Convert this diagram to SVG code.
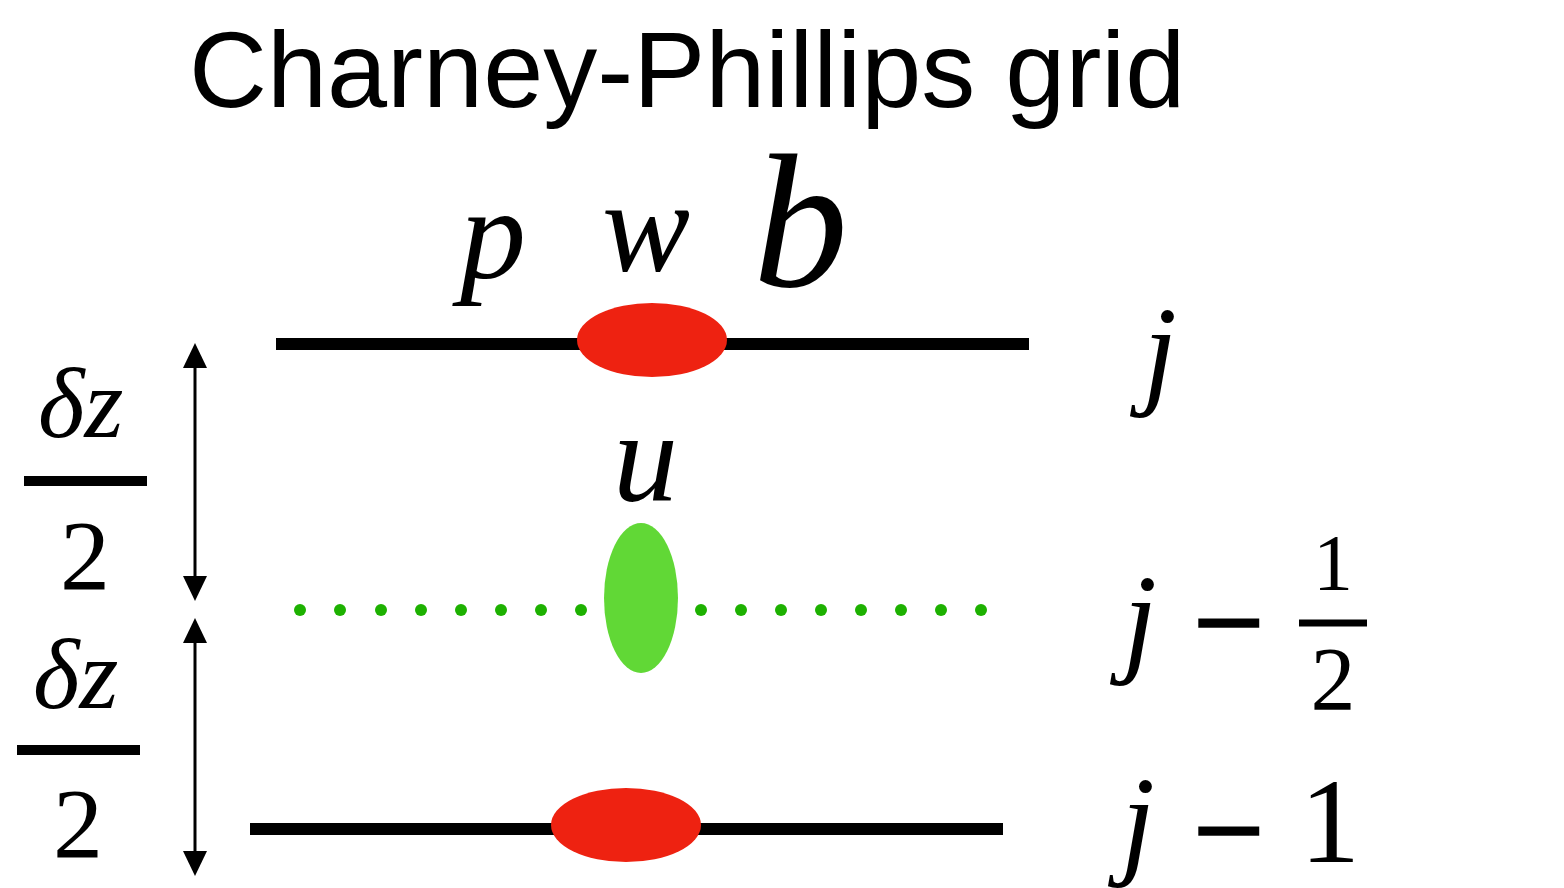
<svg xmlns="http://www.w3.org/2000/svg" width="1564" height="888" viewBox="0 0 1564 888">
<style>
.math{font-family:"Liberation Serif","Times New Roman",serif;font-style:italic;fill:#000}
.num{font-family:"Liberation Serif","Times New Roman",serif;fill:#000}
.minus{font-family:"Liberation Serif","Times New Roman",serif;fill:#000;stroke:#000;stroke-width:5}
.title{font-family:"Liberation Sans",Arial,sans-serif;fill:#000}
.level{stroke:#000;stroke-width:12}
.bar{stroke:#000;stroke-width:10}
.dot{fill:#1DB100}
.red{fill:#EE2211}
.green{fill:#61D836}
.shaft{stroke:#000;stroke-width:3;fill:none}
.head{fill:#000}
</style>
<rect width="1564" height="888" fill="#fff"/>
<text class="title" x="189" y="107" font-size="108">Charney-Phillips grid</text>

<g id="connectors">
<line class="shaft" x1="195" y1="360" x2="195" y2="584"/>
<polygon class="head" points="195,343 207,368 183,368"/>
<polygon class="head" points="195,601 207,576 183,576"/>
<line class="shaft" x1="195" y1="635" x2="195" y2="859"/>
<polygon class="head" points="195,618 207,643 183,643"/>
<polygon class="head" points="195,876 207,851 183,851"/>
</g>

<g id="level-j">
<line class="level" x1="276" y1="344" x2="1029" y2="344"/>
<ellipse class="red" cx="652" cy="340" rx="75" ry="37"/>
<text class="math" x="460" y="278" font-size="132">p</text>
<text class="math" x="602" y="271" font-size="132">w</text>
<text class="math" x="753" y="286" font-size="190">b</text>
<text class="math" x="1143" y="392" font-size="122">j</text>
</g>

<g id="level-jhalf">
<g class="dot">
<circle cx="300" cy="610" r="6"/><circle cx="340" cy="610" r="6"/><circle cx="381" cy="610" r="6"/><circle cx="421" cy="610" r="6"/>
<circle cx="461" cy="610" r="6"/><circle cx="501" cy="610" r="6"/><circle cx="541" cy="610" r="6"/><circle cx="581" cy="610" r="6"/>
<circle cx="701" cy="610" r="6"/><circle cx="741" cy="610" r="6"/><circle cx="781" cy="610" r="6"/><circle cx="821" cy="610" r="6"/>
<circle cx="861" cy="610" r="6"/><circle cx="901" cy="610" r="6"/><circle cx="941" cy="610" r="6"/><circle cx="981" cy="610" r="6"/>
</g>
<ellipse class="green" cx="641" cy="598" rx="37" ry="75"/>
<text class="math" x="613" y="500" font-size="130">u</text>
<text class="math" x="1123" y="660" font-size="122">j</text>
<text class="minus" x="1196" y="653" font-size="90" textLength="66" lengthAdjust="spacingAndGlyphs">−</text>
<text class="num" x="1333" y="590" font-size="80" text-anchor="middle">1</text>
<line x1="1299" y1="623" x2="1367" y2="623" stroke="#000" stroke-width="7"/>
<text class="num" x="1333" y="710" font-size="90" text-anchor="middle">2</text>
</g>

<g id="level-jminus1">
<line class="level" x1="250" y1="829" x2="1003" y2="829"/>
<ellipse class="red" cx="626" cy="825" rx="75" ry="37"/>
<text class="math" x="1121" y="862" font-size="122">j</text>
<text class="minus" x="1196" y="861" font-size="90" textLength="66" lengthAdjust="spacingAndGlyphs">−</text>
<text class="num" x="1300" y="862" font-size="120">1</text>
</g>

<g id="dz-upper">
<text class="math" x="38" y="437" font-size="100">δz</text>
<line class="bar" x1="24" y1="481" x2="147" y2="481"/>
<text class="num" x="85" y="589" font-size="100" text-anchor="middle">2</text>
</g>

<g id="dz-lower">
<text class="math" x="33" y="708" font-size="100">δz</text>
<line class="bar" x1="17" y1="750" x2="140" y2="750"/>
<text class="num" x="78" y="857" font-size="100" text-anchor="middle">2</text>
</g>
</svg>
